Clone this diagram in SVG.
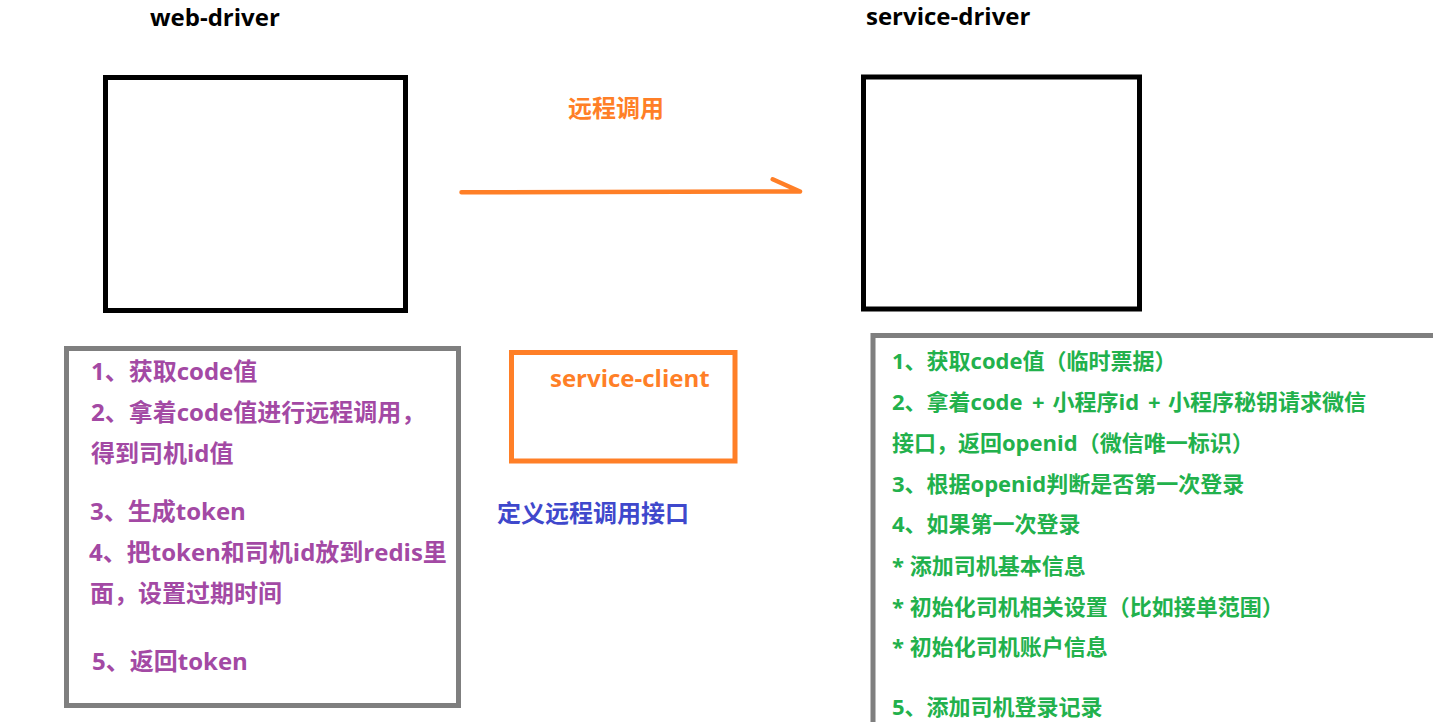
<svg xmlns="http://www.w3.org/2000/svg" width="1433" height="722" viewBox="0 0 1433 722">
<style>
  text { font-family: "Open Sans", "Noto Sans CJK SC", sans-serif; font-weight: bold; }
  .title { font-size: 24px; fill: #000000; }
  .box { fill: #ffffff; stroke: #000000; stroke-width: 5; }
  .gray { fill: #ffffff; stroke: #7f7f7f; stroke-width: 5; }
  .orangebox { fill: #ffffff; stroke: #ff7f27; stroke-width: 5; }
  .purple { font-size: 24px; fill: #a349a4; }
  .green { font-size: 22px; fill: #22b14c; }
  .orange { font-size: 24px; fill: #ff7f27; }
  .blue { font-size: 24px; fill: #3f48cc; }
  .conn { fill: none; stroke: #ff7f27; stroke-width: 4.5; stroke-linecap: round; stroke-linejoin: round; }
</style>
<rect x="0" y="0" width="1433" height="722" fill="#ffffff"/>

<g id="web-driver">
  <text class="title" x="150" y="26">web-driver</text>
  <rect class="box" x="105.5" y="77.5" width="300" height="233"/>
</g>

<g id="service-driver">
  <text class="title" x="866" y="25">service-driver</text>
  <rect class="box" x="863.5" y="77" width="276" height="232"/>
</g>

<g id="web-driver-steps">
  <rect class="gray" x="66.5" y="348.5" width="392" height="357"/>
  <text class="purple" x="91" y="380">1、获取code值</text>
  <text class="purple" x="91" y="421">2、拿着code值进行远程调用，</text>
  <text class="purple" x="91" y="462">得到司机id值</text>
  <text class="purple" x="90" y="520">3、生成token</text>
  <text class="purple" x="89" y="561">4、把token和司机id放到redis里</text>
  <text class="purple" x="90" y="602">面，设置过期时间</text>
  <text class="purple" x="92" y="670">5、返回token</text>
</g>

<g id="service-client">
  <rect class="orangebox" x="511.5" y="352.5" width="223.5" height="108.5"/>
  <text class="orange" x="550" y="387">service-client</text>
</g>

<g id="service-client-label">
  <text class="blue" x="497" y="522">定义远程调用接口</text>
</g>

<g id="service-driver-steps">
  <rect class="gray" x="873" y="335.5" width="620" height="450"/>
  <text class="green" x="892" y="369">1、获取code值（临时票据）</text>
  <text class="green" x="892" y="410">2、拿着code <tspan x="1032">+</tspan> <tspan x="1052.5">小程序id</tspan> <tspan x="1148">+</tspan> <tspan x="1168">小程序秘钥请求微信</tspan></text>
  <text class="green" x="892" y="451">接口，返回openid（微信唯一标识）</text>
  <text class="green" x="892" y="492">3、根据openid判断是否第一次登录</text>
  <text class="green" x="892" y="532">4、如果第一次登录</text>
  <text class="green" x="892" y="574">* 添加司机基本信息</text>
  <text class="green" x="892" y="615">* 初始化司机相关设置（比如接单范围）</text>
  <text class="green" x="892" y="655">* 初始化司机账户信息</text>
  <text class="green" x="892" y="715">5、添加司机登录记录</text>
</g>

<g id="connectors">
  <path class="conn" d="M461.5,192.3 L800,191.5 M772.7,179.3 L800,191.5"/>
  <text class="orange" x="568" y="117">远程调用</text>
</g>
</svg>
